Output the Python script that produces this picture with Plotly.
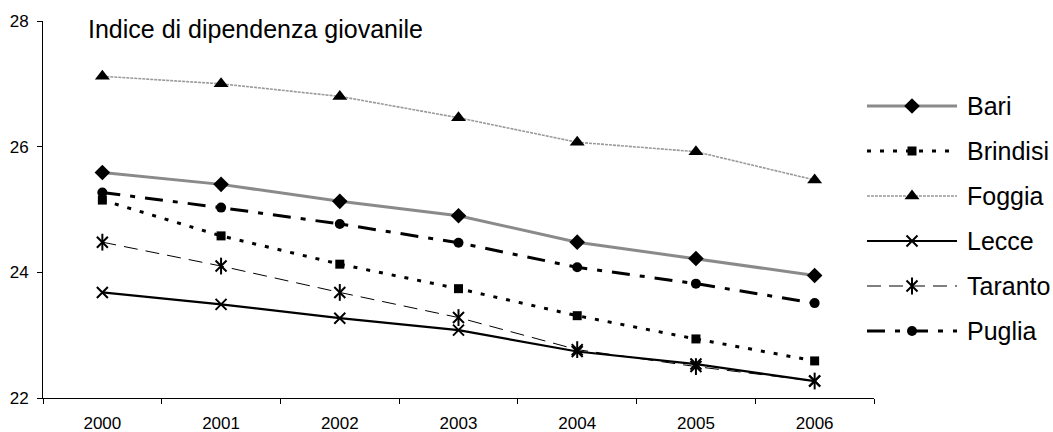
import plotly.graph_objects as go

years = ["2000", "2001", "2002", "2003", "2004", "2005", "2006"]
bari = [25.59, 25.40, 25.13, 24.90, 24.48, 24.22, 23.95]
brindisi = [25.15, 24.58, 24.13, 23.74, 23.31, 22.94, 22.59]
foggia = [27.12, 27.00, 26.80, 26.46, 26.07, 25.92, 25.47]
lecce = [23.68, 23.49, 23.27, 23.08, 22.74, 22.54, 22.27]
taranto = [24.48, 24.10, 23.68, 23.28, 22.77, 22.50, 22.27]
puglia = [25.27, 25.03, 24.77, 24.47, 24.08, 23.82, 23.51]

names = ["Bari", "Brindisi", "Foggia", "Lecce", "Taranto", "Puglia"]
values = [bari, brindisi, foggia, lecce, taranto, puglia]
y_ticks = [22, 24, 26, 28]
title_text = "Indice di dipendenza giovanile"

FONT = "Arial, Liberation Sans, sans-serif"

styles = {
    "Bari": dict(line=dict(color="#8a8a8a", width=3),
                 marker=dict(symbol="diamond", size=12, color="black")),
    "Brindisi": dict(line=dict(color="black", width=3, dash="4px,9px"),
                     marker=dict(symbol="square", size=9, color="black")),
    "Foggia": dict(line=dict(color="#9a9a9a", width=1.6, dash="3px,1px"),
                   marker=dict(symbol="triangle-up", size=13, color="black")),
    "Lecce": dict(line=dict(color="black", width=2.2),
                  marker=dict(symbol="x-thin-open", size=11, color="black",
                              line=dict(width=2, color="black"))),
    "Taranto": dict(line=dict(color="black", width=1, dash="14px,8px"),
                    marker=dict(symbol="x-thin-open", size=11, color="black",
                                line=dict(width=2, color="black"))),
    "Puglia": dict(line=dict(color="black", width=3, dash="18px,10px,5px,10px"),
                   marker=dict(symbol="circle", size=10, color="black")),
}
star_bar = dict(symbol="line-ns-open", size=12, color="black",
                line=dict(width=2, color="black"))

# plot geometry (pixels)
L, R_PAD, T, B = 43, 10, 21, 34
PAPER_W = 1053 - L - R_PAD
PAPER_H = 432 - T - B


def px_x(p):
    return (p - L) / PAPER_W


def px_y(p):
    return (432 - B - p) / PAPER_H


fig = go.Figure()

for name, vals in zip(names, values):
    st = styles[name]
    fig.add_trace(go.Scatter(x=years, y=vals, mode="lines+markers", name=name,
                             line=st["line"], marker=st["marker"], showlegend=False))
    if name == "Taranto":
        fig.add_trace(go.Scatter(x=years, y=vals, mode="markers", showlegend=False,
                                 marker=star_bar))

# manual legend on an auxiliary axis pair
leg_top = 106
leg_step = 45
for i, name in enumerate(names):
    st = styles[name]
    yy = leg_top + i * leg_step
    fig.add_trace(go.Scatter(x=[0, 0.5, 1], y=[yy, yy, yy], mode="lines", xaxis="x2", yaxis="y2",
                             line=st["line"], showlegend=False, hoverinfo="skip"))
    fig.add_trace(go.Scatter(x=[0.5], y=[yy], mode="markers", xaxis="x2", yaxis="y2",
                             marker=st["marker"], showlegend=False, hoverinfo="skip"))
    if name == "Taranto":
        fig.add_trace(go.Scatter(x=[0.5], y=[yy], mode="markers", xaxis="x2", yaxis="y2",
                                 marker=star_bar, showlegend=False, hoverinfo="skip"))
    fig.add_annotation(x=px_x(965), y=px_y(yy), xref="paper", yref="paper", text=name,
                       showarrow=False, xanchor="left", yanchor="middle",
                       font=dict(family=FONT, size=25, color="black"))

fig.add_annotation(x=px_x(86), y=px_y(29), xref="paper", yref="paper",
                   text=title_text, showarrow=False, xanchor="left", yanchor="middle",
                   font=dict(family=FONT, size=25, color="black"))

fig.update_layout(
    width=1053, height=432,
    margin=dict(l=L, r=R_PAD, t=T, b=B),
    paper_bgcolor="white", plot_bgcolor="white",
    font=dict(family=FONT, size=17, color="black"),
    xaxis=dict(type="category", domain=[0, px_x(874)], range=[-0.5, 6.5],
               showline=True, linecolor="black", linewidth=1, automargin=False,
               ticks="outside", ticklen=5, tickcolor="black", tickson="boundaries",
               showgrid=False, zeroline=False, ticklabelstandoff=10,
               tickfont=dict(family=FONT, size=17, color="black")),
    yaxis=dict(range=[22, 28], tickvals=y_ticks, showline=True, linecolor="black",
               linewidth=1, ticks="outside", ticklen=5, tickcolor="black", automargin=False,
               showgrid=False, zeroline=False, ticklabelstandoff=5,
               tickfont=dict(family=FONT, size=17, color="black")),
    xaxis2=dict(domain=[px_x(867), px_x(957)], range=[0, 1], visible=False, anchor="y2"),
    yaxis2=dict(domain=[0, 1], range=[432 - B, T], visible=False, anchor="x2"),
    showlegend=False,
)

fig.write_html("out.html")
